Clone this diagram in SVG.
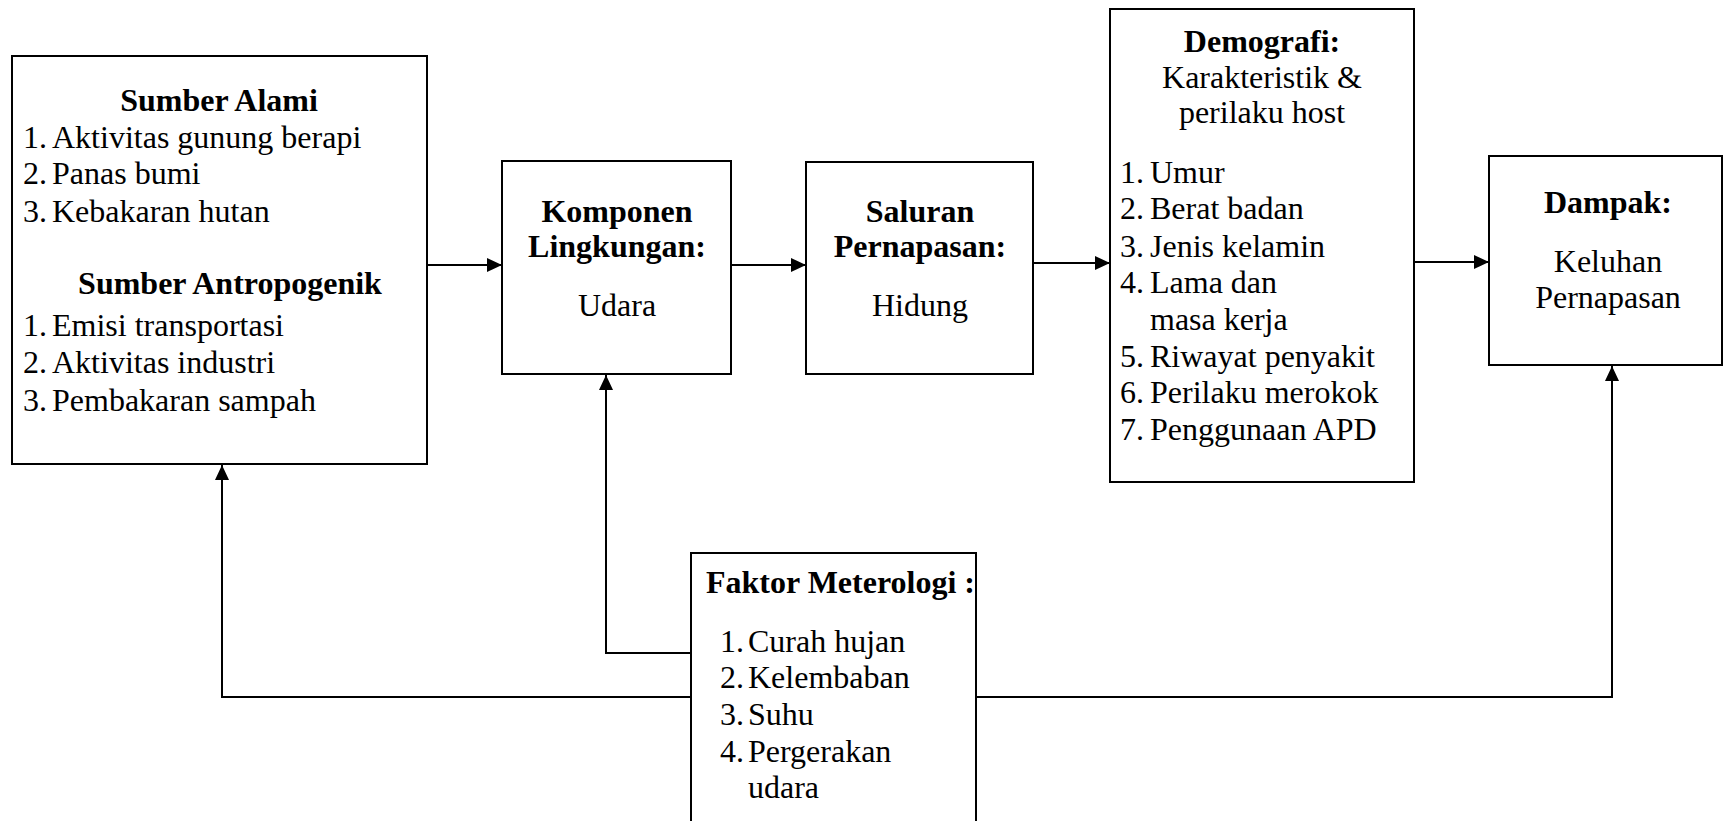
<svg xmlns="http://www.w3.org/2000/svg" width="1724" height="821" viewBox="0 0 1724 821">
<style>
  .box { fill: #fff; stroke: #000; stroke-width: 2; }
  .conn { fill: none; stroke: #000; stroke-width: 2; }
  text { font-family: "Liberation Serif", "Times New Roman", serif; font-size: 32px; fill: #000; }
  .b { font-weight: bold; }
  .c { text-anchor: middle; }
</style>
<defs>
  <marker id="arr" markerUnits="userSpaceOnUse" markerWidth="15" markerHeight="14" refX="15" refY="7" orient="auto">
    <path d="M0,0 L15,7 L0,14 z" fill="#000"/>
  </marker>
</defs>
<rect width="1724" height="821" fill="#fff"/>

<g id="sumber">
  <rect class="box" x="12" y="56" width="415" height="408"/>
  <text class="b c" x="219" y="111">Sumber Alami</text>
  <text x="23" y="148">1.</text><text x="52" y="148">Aktivitas gunung berapi</text>
  <text x="23" y="184">2.</text><text x="52" y="184">Panas bumi</text>
  <text x="23" y="222">3.</text><text x="52" y="222">Kebakaran hutan</text>
  <text class="b c" x="230" y="294">Sumber Antropogenik</text>
  <text x="23" y="336">1.</text><text x="52" y="336">Emisi transportasi</text>
  <text x="23" y="373">2.</text><text x="52" y="373">Aktivitas industri</text>
  <text x="23" y="411">3.</text><text x="52" y="411">Pembakaran sampah</text>
</g>

<g id="komponen">
  <rect class="box" x="502" y="161" width="229" height="213"/>
  <text class="b c" x="617" y="222">Komponen</text>
  <text class="b c" x="617" y="257">Lingkungan:</text>
  <text class="c" x="617" y="316">Udara</text>
</g>

<g id="saluran">
  <rect class="box" x="806" y="162" width="227" height="212"/>
  <text class="b c" x="920" y="222">Saluran</text>
  <text class="b c" x="920" y="257">Pernapasan:</text>
  <text class="c" x="920" y="316">Hidung</text>
</g>

<g id="demografi">
  <rect class="box" x="1110" y="9" width="304" height="473"/>
  <text class="b c" x="1262" y="52">Demografi:</text>
  <text class="c" x="1262" y="88">Karakteristik &amp;</text>
  <text class="c" x="1262" y="123">perilaku host</text>
  <text x="1120" y="183">1.</text><text x="1150" y="183">Umur</text>
  <text x="1120" y="219">2.</text><text x="1150" y="219">Berat badan</text>
  <text x="1120" y="257">3.</text><text x="1150" y="257">Jenis kelamin</text>
  <text x="1120" y="293">4.</text><text x="1150" y="293">Lama dan</text>
  <text x="1150" y="330">masa kerja</text>
  <text x="1120" y="367">5.</text><text x="1150" y="367">Riwayat penyakit</text>
  <text x="1120" y="403">6.</text><text x="1150" y="403">Perilaku merokok</text>
  <text x="1120" y="440">7.</text><text x="1150" y="440">Penggunaan APD</text>
</g>

<g id="dampak">
  <rect class="box" x="1489" y="156" width="233" height="209"/>
  <text class="b c" x="1608" y="213">Dampak:</text>
  <text class="c" x="1608" y="272">Keluhan</text>
  <text class="c" x="1608" y="308">Pernapasan</text>
</g>

<g id="faktor">
  <rect class="box" x="691" y="553" width="285" height="272"/>
  <text class="b" x="706" y="593">Faktor Meterologi :</text>
  <text x="720" y="652">1.</text><text x="748" y="652">Curah hujan</text>
  <text x="720" y="688">2.</text><text x="748" y="688">Kelembaban</text>
  <text x="720" y="725">3.</text><text x="748" y="725">Suhu</text>
  <text x="720" y="762">4.</text><text x="748" y="762">Pergerakan</text>
  <text x="748" y="798">udara</text>
</g>

<g id="connectors">
  <line class="conn" x1="427" y1="265" x2="502" y2="265" marker-end="url(#arr)"/>
  <line class="conn" x1="731" y1="265" x2="806" y2="265" marker-end="url(#arr)"/>
  <line class="conn" x1="1033" y1="263" x2="1110" y2="263" marker-end="url(#arr)"/>
  <line class="conn" x1="1414" y1="262" x2="1489" y2="262" marker-end="url(#arr)"/>
  <polyline class="conn" points="691,697 222,697 222,465" marker-end="url(#arr)"/>
  <polyline class="conn" points="691,653 606,653 606,375" marker-end="url(#arr)"/>
  <polyline class="conn" points="976,697 1612,697 1612,366" marker-end="url(#arr)"/>
</g>
</svg>
